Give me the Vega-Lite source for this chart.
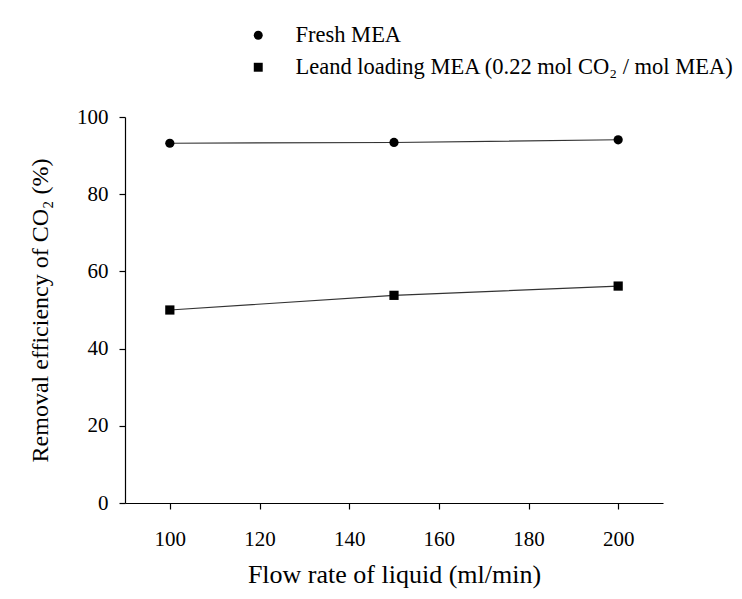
{
  "$schema": "https://vega.github.io/schema/vega-lite/v6.json",
  "autosize": {"type": "none"},
  "width": 538,
  "height": 386,
  "padding": {"left": 125, "top": 117, "right": 79, "bottom": 96},
  "background": "white",
  "config": {
    "font": "Liberation Serif",
    "view": {"stroke": null},
    "axis": {"grid": false, "domainColor": "black", "tickColor": "black", "labelColor": "black", "titleColor": "black", "labelFont": "Liberation Serif", "titleFont": "Liberation Serif", "titleFontWeight": "normal", "domainWidth": 1.2, "tickWidth": 1.2},
    "legend": {"labelFont": "Liberation Serif"}
  },
  "data": {
    "values": [
      {"series": "Fresh MEA", "flow": 100, "eff": 93.2},
      {"series": "Fresh MEA", "flow": 150, "eff": 93.4},
      {"series": "Fresh MEA", "flow": 200, "eff": 94.1},
      {"series": "Leand loading MEA (0.22 mol CO₂ / mol MEA)", "flow": 100, "eff": 50.0},
      {"series": "Leand loading MEA (0.22 mol CO₂ / mol MEA)", "flow": 150, "eff": 53.8},
      {"series": "Leand loading MEA (0.22 mol CO₂ / mol MEA)", "flow": 200, "eff": 56.2}
    ]
  },
  "encoding": {
    "x": {
      "field": "flow", "type": "quantitative",
      "scale": {"domain": [90, 210], "nice": false, "zero": false},
      "axis": {"values": [100, 120, 140, 160, 180, 200], "title": "Flow rate of liquid (ml/min)", "labelFont": "Liberation Serif", "titleFont": "Liberation Serif", "labelFontSize": 21, "titleFontSize": 26, "tickSize": 6, "labelPadding": 19, "titlePadding": 12}
    },
    "y": {
      "field": "eff", "type": "quantitative",
      "scale": {"domain": [0, 100], "nice": false},
      "axis": {"values": [0, 20, 40, 60, 80, 100], "title": "Removal efficiency of CO₂ (%)", "labelFont": "Liberation Serif", "titleFont": "Liberation Serif", "labelFontSize": 21, "titleFontSize": 24, "tickSize": 6, "labelPadding": 11, "titlePadding": 24}
    }
  },
  "layer": [
    {
      "mark": {"type": "line", "color": "#333333", "strokeWidth": 1.2},
      "encoding": {"detail": {"field": "series"}}
    },
    {
      "mark": {"type": "point", "filled": true, "color": "black", "opacity": 1, "size": 85},
      "encoding": {
        "shape": {
          "field": "series", "type": "nominal",
          "scale": {"domain": ["Fresh MEA", "Leand loading MEA (0.22 mol CO₂ / mol MEA)"], "range": ["circle", "square"]},
          "legend": {"title": null, "orient": "none", "legendX": 122, "legendY": -93, "labelFontSize": 22.5, "labelColor": "black", "symbolFillColor": "black", "symbolStrokeColor": "black", "symbolSize": 80, "labelOffset": 26, "rowPadding": 9, "labelLimit": 600}
        }
      }
    }
  ]
}
